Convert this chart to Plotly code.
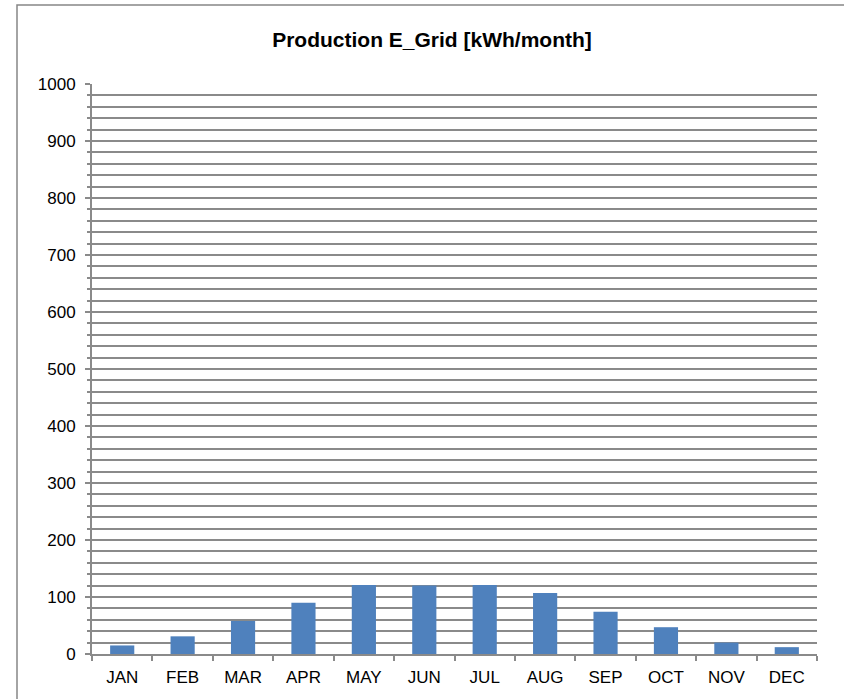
import plotly.graph_objects as go

months = ["JAN", "FEB", "MAR", "APR", "MAY", "JUN", "JUL", "AUG", "SEP", "OCT", "NOV", "DEC"]
e_grid = [15, 31, 58, 90, 121, 120, 121, 107, 74, 47, 20, 12]
y_ticks = [0, 100, 200, 300, 400, 500, 600, 700, 800, 900, 1000]

GRAY = "#8a8a8a"
FONT = "Liberation Sans, Arial, sans-serif"

fig = go.Figure(go.Bar(x=months, y=e_grid, marker=dict(color="#4f81bd", line=dict(color="#4f81bd", width=0))))

fig.update_layout(
    width=844, height=699,
    margin=dict(l=92, r=27, t=84, b=45),
    paper_bgcolor="white", plot_bgcolor="white",
    bargap=0.6, showlegend=False,
    font=dict(family=FONT, size=17, color="black"),
    title=dict(text="<b>Production E_Grid [kWh/month]</b>", x=432 / 844, xanchor="center",
               y=1 - 40 / 699, yanchor="middle", font=dict(family=FONT, size=21, color="black")),
)
fig.update_yaxes(
    range=[0, 1000], tickvals=y_ticks, showgrid=True, gridcolor=GRAY, gridwidth=2,
    showline=True, linecolor=GRAY, linewidth=2, ticks="outside", ticklen=5, tickcolor=GRAY,
    tickwidth=2, ticklabelstandoff=6, zeroline=False,
    minor=dict(dtick=20, tick0=0, showgrid=True, gridcolor=GRAY, gridwidth=2,
               ticks="outside", ticklen=3, tickcolor=GRAY, tickwidth=2),
)
fig.update_xaxes(
    showline=True, linecolor=GRAY, linewidth=2, ticks="outside", ticklen=5, tickcolor=GRAY,
    tickwidth=2, tickson="boundaries", ticklabelstandoff=7, showgrid=False,
)
# outer chart frame (right/bottom edges fall outside the canvas)
fig.add_shape(type="rect", xref="paper", yref="paper", x0=(17 - 92) / 725, x1=1.2,
              y0=-0.2, y1=(654 - 5) / 570, line=dict(color="#868686", width=1.5), layer="below")

fig.write_html("out.html", config={"displayModeBar": False},
               post_script="document.body.style.margin='0';")
